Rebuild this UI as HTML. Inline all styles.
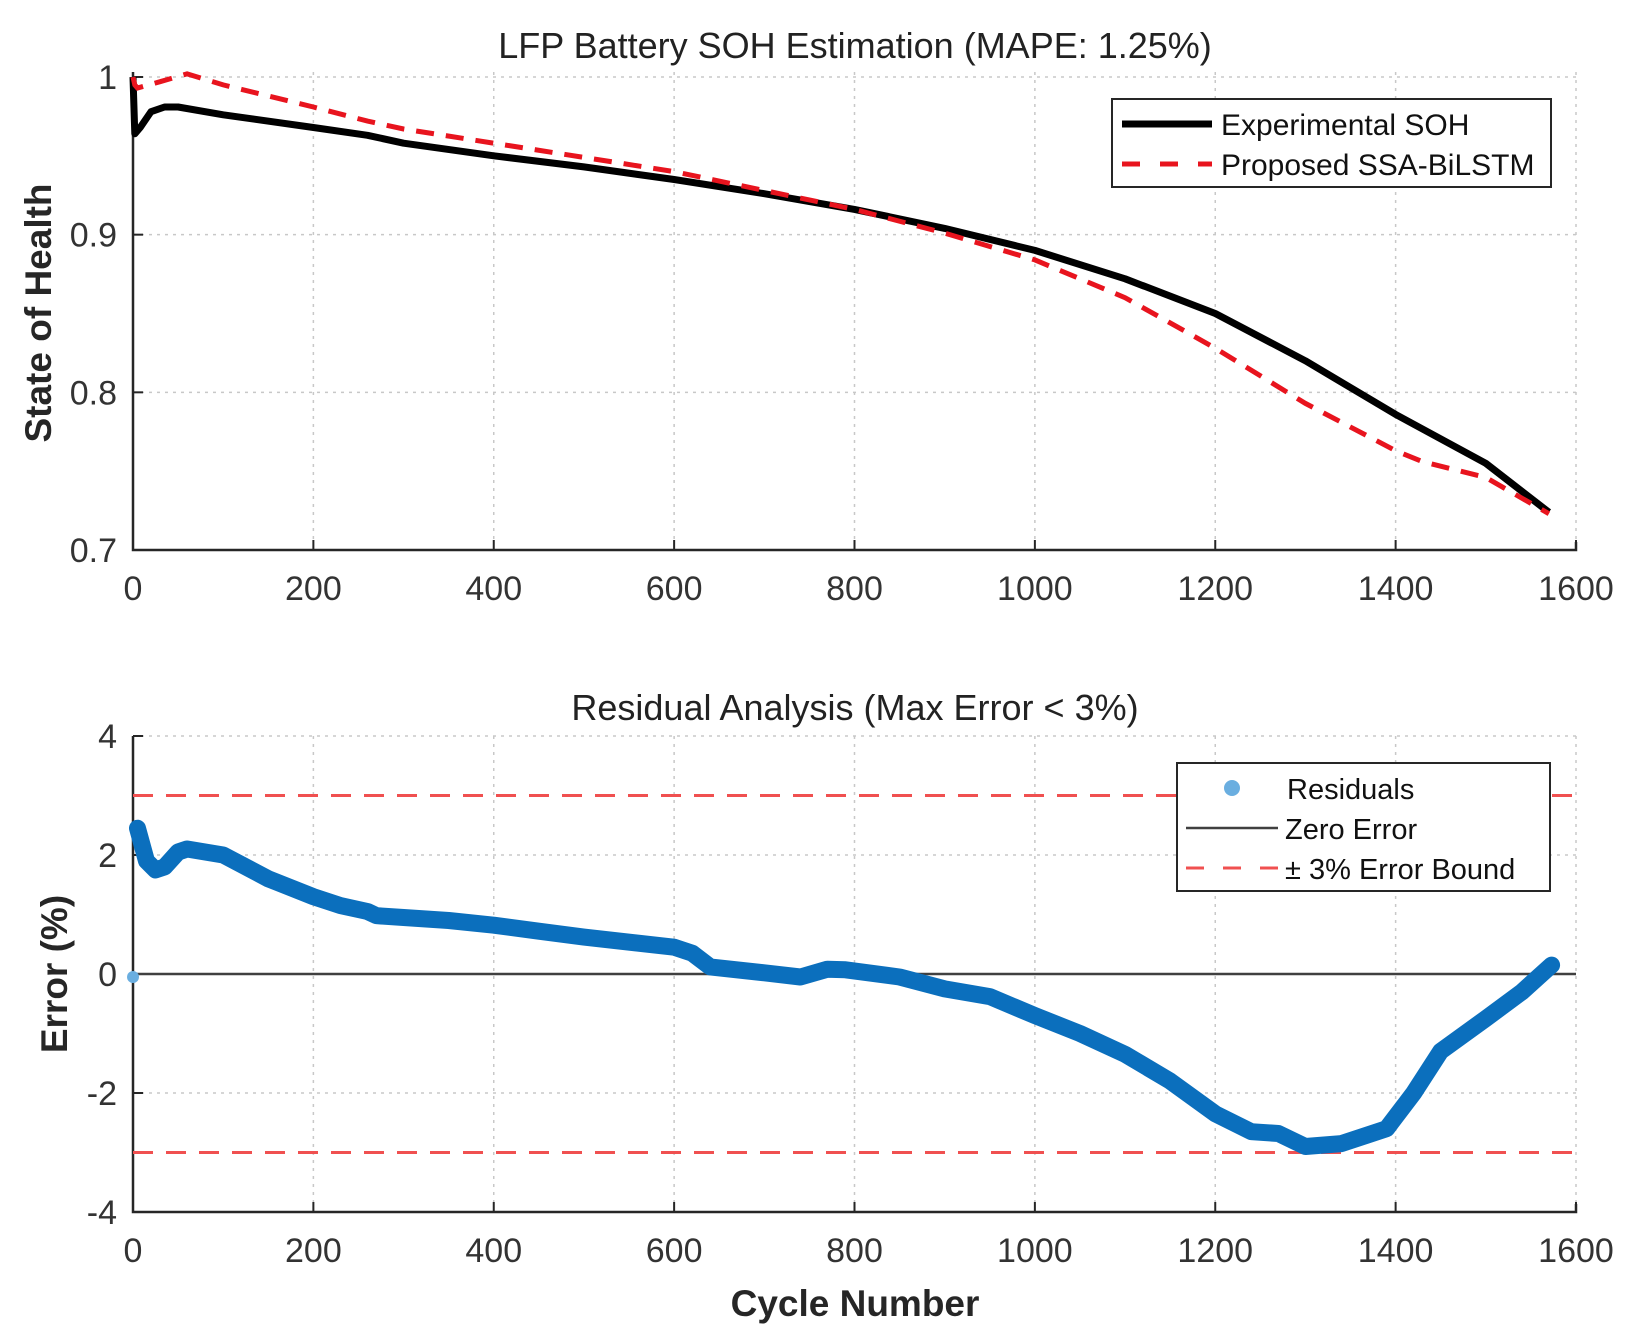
<!DOCTYPE html>
<html><head><meta charset="utf-8"><style>
html,body{margin:0;padding:0;background:#fff;}
svg{display:block;font-family:"Liberation Sans",Arial,sans-serif;}
</style></head><body>
<svg id="fig" width="1633" height="1338" viewBox="0 0 1633 1338">
<rect width="1633" height="1338" fill="#fff"/>
<g id="topchart"></g>
<g id="botchart"></g>
<text x="855" y="58" font-size="36" text-anchor="middle" fill="#222">LFP Battery SOH Estimation (MAPE: 1.25%)</text>
<text x="855" y="720" font-size="36" text-anchor="middle" fill="#222">Residual Analysis (Max Error &lt; 3%)</text>
<text transform="translate(51,313) rotate(-90)" font-size="37" font-weight="bold" text-anchor="middle" fill="#262626">State of Health</text>
<text transform="translate(67,974) rotate(-90)" font-size="37" font-weight="bold" text-anchor="middle" fill="#262626">Error (%)</text>
<text x="855" y="1316" font-size="37" font-weight="bold" text-anchor="middle" fill="#262626">Cycle Number</text>
</svg>
<script>
const xTicks=[0,200,400,600,800,1000,1200,1400,1600];
const sohTicks=[0.7,0.8,0.9,1];
const sohTickLabels=["0.7","0.8","0.9","1"];
const errTicks=[-4,-2,0,2,4];
const errTickLabels=["-4","-2","0","2","4"];
const expCycles=[0,2,8,20,35,50,100,200,260,300,400,500,600,700,800,900,1000,1100,1200,1300,1400,1500,1570];
const expSOH=[1.0,0.964,0.968,0.978,0.981,0.981,0.976,0.968,0.963,0.958,0.950,0.943,0.935,0.926,0.916,0.904,0.890,0.872,0.850,0.820,0.786,0.755,0.724];
const predCycles=[0,2,5,30,60,100,200,260,300,400,500,600,700,800,900,1000,1100,1200,1300,1400,1430,1500,1570];
const predSOH=[1.0,0.995,0.993,0.997,1.002,0.995,0.981,0.972,0.967,0.958,0.949,0.940,0.928,0.916,0.901,0.884,0.860,0.828,0.793,0.763,0.756,0.746,0.723];
const resCycles=[5,15,25,35,50,60,100,150,200,230,260,270,300,350,400,450,500,600,620,640,700,740,770,790,850,900,950,1000,1050,1100,1150,1200,1240,1270,1300,1340,1390,1420,1450,1500,1540,1573];
const resErr=[2.45,1.9,1.75,1.8,2.05,2.1,2.0,1.6,1.3,1.15,1.05,0.98,0.95,0.9,0.82,0.72,0.62,0.45,0.35,0.12,0.02,-0.05,0.08,0.07,-0.05,-0.25,-0.38,-0.7,-1.0,-1.35,-1.8,-2.35,-2.65,-2.68,-2.9,-2.85,-2.6,-2.0,-1.3,-0.75,-0.3,0.15];
const resFirstCycle=[0];
const resFirstErr=[-0.05];
const bounds=[3,-3];

const NS="http://www.w3.org/2000/svg";
const L=133,R=1576;
function xs(v){return L+(v-0)/(1600-0)*(R-L);}
function ys1(v){return 550-(v-0.7)/(1-0.7)*(550-77);}
function ys2(v){return 1212-(v+4)/8*(1212-736);}
function mk(tag,attrs,parent){const e=document.createElementNS(NS,tag);for(const k in attrs)e.setAttribute(k,attrs[k]);parent.appendChild(e);return e;}
function pts(xa,ya,yf){return xa.map((x,i)=>xs(x).toFixed(1)+","+yf(ya[i]).toFixed(1)).join(" ");}

function axes(g,yTop,yBot,yt,ytl,yf,prefix){
  xTicks.forEach(t=>{if(t>0){const l=mk('line',{x1:xs(t),x2:xs(t),y1:yTop,y2:yBot,stroke:'#c8c8c8','stroke-width':1.5,'stroke-dasharray':'3,5'},g);
  
  }});
  yt.forEach((t,i)=>{const y=yf(t);
    if(y<yBot-1){const l=mk('line',{x1:L,x2:R,y1:y,y2:y,stroke:'#c8c8c8','stroke-width':1.5,'stroke-dasharray':'3,5'},g);
    
    }
    const tk=mk('line',{x1:L,x2:L+10,y1:y,y2:y,stroke:'#262626','stroke-width':2},g);
    
    
    const tx=mk('text',{x:L-16,y:y+12,'font-size':34,'text-anchor':'end',fill:'#333'},g);tx.textContent=ytl[i];
    
    
  });
  xTicks.forEach(t=>{const x=xs(t);
    const tk=mk('line',{x1:x,x2:x,y1:yBot,y2:yBot-10,stroke:'#262626','stroke-width':2},g);
    
    
    const tx=mk('text',{x:x,y:yBot+50,'font-size':34,'text-anchor':'middle',fill:'#333'},g);tx.textContent=String(t);
    
    
  });
  const ax=mk('path',{d:`M${L},${yTop} L${L},${yBot} L${R},${yBot} L${R},${yBot-8}`,fill:'none',stroke:'#262626','stroke-width':2.5},g);
  
  
}

const topG=document.getElementById('topchart');
axes(topG,72,550,sohTicks,sohTickLabels,ys1,'soh');
const pe=mk('polyline',{points:pts(expCycles,expSOH,ys1),fill:'none',stroke:'#000','stroke-width':7,'stroke-linejoin':'round'},topG);


const pp=mk('polyline',{points:pts(predCycles,predSOH,ys1),fill:'none',stroke:'#e8141e','stroke-width':5,'stroke-dasharray':'18,12'},topG);


const lg1=mk('g',{},topG);


mk('rect',{x:1112,y:99,width:439,height:88,fill:'#fff',stroke:'#262626','stroke-width':2},lg1);
mk('line',{x1:1122,x2:1212,y1:124,y2:124,stroke:'#000','stroke-width':7},lg1);
mk('line',{x1:1122,x2:1212,y1:164,y2:164,stroke:'#e8141e','stroke-width':5,'stroke-dasharray':'18,20'},lg1);
let t1=mk('text',{x:1221,y:135,'font-size':30,fill:'#111'},lg1);t1.textContent='Experimental SOH';


let t2=mk('text',{x:1221,y:175,'font-size':30,fill:'#111'},lg1);t2.textContent='Proposed SSA-BiLSTM';



const botG=document.getElementById('botchart');
axes(botG,736,1212,errTicks,errTickLabels,ys2,'residual');
bounds.forEach(b=>{const l=mk('line',{x1:L,x2:R,y1:ys2(b),y2:ys2(b),stroke:'#f05050','stroke-width':3,'stroke-dasharray':'20,13'},botG);
  
  });
const z=mk('line',{x1:L,x2:R,y1:ys2(0),y2:ys2(0),stroke:'#404040','stroke-width':2.5},botG);


const rl=mk('polyline',{points:pts(resCycles,resErr,ys2),fill:'none',stroke:'#0b6fbd','stroke-width':17,'stroke-linejoin':'round','stroke-linecap':'round'},botG);


resFirstCycle.forEach((c,i)=>{const p=mk('circle',{cx:xs(c),cy:ys2(resFirstErr[i]),r:6,fill:'#6aaee0'},botG);
  
  });
const lg2=mk('g',{},botG);


mk('rect',{x:1177,y:763,width:373,height:128,fill:'#fff',stroke:'#262626','stroke-width':2},lg2);
mk('circle',{cx:1232,cy:788,r:8,fill:'#6aaee0'},lg2);
mk('line',{x1:1186,x2:1278,y1:828,y2:828,stroke:'#404040','stroke-width':2.5},lg2);
mk('line',{x1:1186,x2:1278,y1:868,y2:868,stroke:'#f05050','stroke-width':3,'stroke-dasharray':'18,19'},lg2);
[['Residuals',799,'legend-entry-residuals'],['Zero Error',839,'legend-entry-zero-error'],['\u00b1 3% Error Bound',879,'legend-entry-error-bound']].forEach(([s,y,n])=>{
  const t=mk('text',{x:s==='Residuals'?1287:1285,y:y,'font-size':29,fill:'#111'},lg2);t.textContent=s;
  
  
});
</script>
</body></html>
